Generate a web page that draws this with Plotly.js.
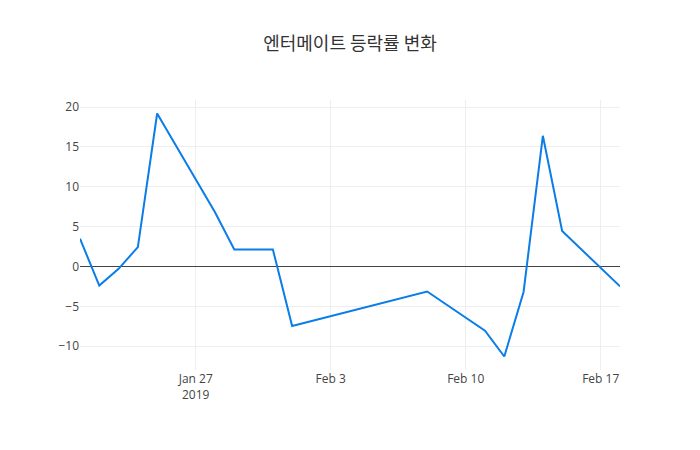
<!DOCTYPE html>
<html>
<head>
<meta charset="utf-8">
<script src="https://cdn.plot.ly/plotly-3.0.1.min.js"></script>
<style>html,body{margin:0;padding:0;background:#fff;}</style>
</head>
<body>
<div id="chart" style="width:700px;height:450px;"></div>
<script>
var dates = ["2019-01-21","2019-01-22","2019-01-23","2019-01-24","2019-01-25","2019-01-28","2019-01-29","2019-01-31","2019-02-01","2019-02-08","2019-02-11","2019-02-12","2019-02-13","2019-02-14","2019-02-15","2019-02-18"];
var changes = [3.48, -2.39, -0.3, 2.43, 19.2, 6.8, 2.14, 2.14, -7.46, -3.14, -8.05, -11.3, -3.2, 16.4, 4.45, -2.5];
var titleText = "엔터메이트 등락률 변화";

Plotly.newPlot("chart", [{
  x: dates,
  y: changes,
  type: "scatter",
  mode: "lines",
  line: {color: "#0a7de8", width: 2}
}], {
  width: 700,
  height: 450,
  title: {text: titleText, font: {family: "'Noto Sans CJK KR', 'Open Sans', sans-serif", size: 18, color: "#333"}},
  font: {family: "'Open Sans', 'Noto Sans CJK KR', sans-serif", color: "#444"},
  xaxis: {type: "date", showgrid: true, gridcolor: "#eee"},
  yaxis: {zeroline: true, zerolinecolor: "#444", zerolinewidth: 1, gridcolor: "#eee"},
  paper_bgcolor: "#fff",
  plot_bgcolor: "#fff",
  showlegend: false
}, {displayModeBar: false});
</script>
</body>
</html>
